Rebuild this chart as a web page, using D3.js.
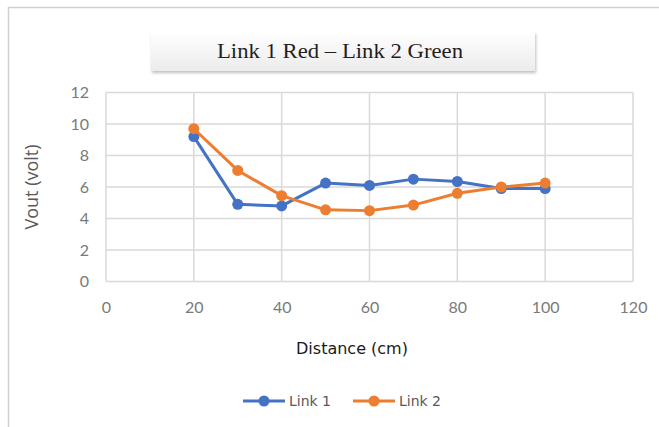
<!DOCTYPE html>
<html>
<head>
<meta charset="utf-8">
<script src="https://cdn.jsdelivr.net/npm/d3@7"></script>
<style>
  html, body { margin: 0; padding: 0; background: #fff; }
  svg { display: block; }
</style>
</head>
<body>
<svg id="chart" width="659" height="427"></svg>
<script>
// Output voltage measured at each distance for the two links
const distances = [20, 30, 40, 50, 60, 70, 80, 90, 100];
const link1 = [9.2, 4.9, 4.8, 6.25, 6.1, 6.5, 6.35, 5.9, 5.9];
const link2 = [9.7, 7.05, 5.45, 4.55, 4.5, 4.85, 5.6, 6.0, 6.25];
const seriesNames = ["Link 1", "Link 2"];
const seriesColors = ["#4472C4", "#ED7D31"];
const xTicks = [0, 20, 40, 60, 80, 100, 120];
const yTicks = [0, 2, 4, 6, 8, 10, 12];
const chartTitle = "Link 1 Red \u2013 Link 2 Green";

const svg = d3.select("#chart");
const W = 659, H = 427;
const plot = { left: 106, right: 633, top: 92.5, bottom: 281.5 };

const x = d3.scaleLinear().domain([0, 120]).range([plot.left, plot.right]);
const y = d3.scaleLinear().domain([0, 12]).range([plot.bottom, plot.top]);

const defs = svg.append("defs");
const grad = defs.append("linearGradient").attr("id", "titleFill")
  .attr("x1", 0).attr("y1", 0).attr("x2", 0).attr("y2", 1);
grad.append("stop").attr("offset", "0%").attr("stop-color", "#ffffff");
grad.append("stop").attr("offset", "100%").attr("stop-color", "#ebebeb");
const shadow = defs.append("filter").attr("id", "boxShadow")
  .attr("x", "-10%").attr("y", "-30%").attr("width", "120%").attr("height", "170%");
shadow.append("feDropShadow").attr("dx", 1).attr("dy", 2).attr("stdDeviation", 1.5)
  .attr("flood-color", "#000").attr("flood-opacity", 0.25);

// Chart frame (top and left edges)
svg.append("path")
  .attr("d", `M8.5,${H} L8.5,7.5 L${W},7.5`)
  .attr("fill", "none").attr("stroke", "#d0d0d0").attr("stroke-width", 1.5);

// Title box
svg.append("rect")
  .attr("x", 151).attr("y", 32).attr("width", 384).attr("height", 39)
  .attr("fill", "url(#titleFill)").attr("filter", "url(#boxShadow)");
svg.append("text")
  .attr("x", 340).attr("y", 58).attr("text-anchor", "middle")
  .attr("font-family", "'Liberation Serif', 'Times New Roman', serif")
  .attr("font-size", 22).attr("fill", "#1f1f1f")
  .attr("textLength", 246).attr("lengthAdjust", "spacingAndGlyphs")
  .text(chartTitle);

// Gridlines
const grid = svg.append("g").attr("stroke", "#d9d9d9").attr("stroke-width", 1.5);
grid.selectAll("line.h").data(yTicks).join("line")
  .attr("x1", plot.left).attr("x2", plot.right)
  .attr("y1", d => y(d)).attr("y2", d => y(d));
grid.selectAll("line.v").data(xTicks).join("line")
  .attr("y1", plot.top).attr("y2", plot.bottom)
  .attr("x1", d => x(d)).attr("x2", d => x(d));

// Axes (labels only; gridlines already drawn)
const tickFont = "Lato, 'Open Sans', sans-serif";
const yAxis = svg.append("g").attr("transform", `translate(${plot.left},0)`)
  .call(d3.axisLeft(y).tickValues(yTicks).tickSize(0).tickPadding(17));
const xAxis = svg.append("g").attr("transform", `translate(0,${plot.bottom})`)
  .call(d3.axisBottom(x).tickValues(xTicks).tickSize(0).tickPadding(20));
[yAxis, xAxis].forEach(a => {
  a.select(".domain").remove();
  a.selectAll("text").attr("font-family", tickFont).attr("font-size", 16).attr("fill", "#7a7a7a");
});

// Axis titles
svg.append("text")
  .attr("transform", `translate(38,${(plot.top + plot.bottom) / 2}) rotate(-90)`)
  .attr("text-anchor", "middle")
  .attr("font-family", "'Open Sans', sans-serif").attr("font-size", 18).attr("fill", "#595959")
  .text("Vout (volt)");
svg.append("text")
  .attr("x", 352).attr("y", 354).attr("text-anchor", "middle")
  .attr("font-family", "'DejaVu Sans', Verdana, sans-serif").attr("font-size", 16).attr("fill", "#1a1a1a")
  .text("Distance (cm)");

// Series
const series = [link1, link2].map((vals, i) => ({
  name: seriesNames[i], color: seriesColors[i],
  points: distances.map((d, j) => ({ x: d, y: vals[j] }))
}));
const line = d3.line().x(d => x(d.x)).y(d => y(d.y));
series.forEach(s => {
  const g = svg.append("g");
  g.append("path").datum(s.points)
    .attr("d", line).attr("fill", "none")
    .attr("stroke", s.color).attr("stroke-width", 3).attr("stroke-linejoin", "round");
  g.selectAll("circle").data(s.points).join("circle")
    .attr("cx", d => x(d.x)).attr("cy", d => y(d.y)).attr("r", 5.5)
    .attr("fill", s.color);
});

// Legend
const legend = svg.append("g");
series.forEach((s, i) => {
  const lx = 243 + i * 110, ly = 401;
  legend.append("line").attr("x1", lx).attr("x2", lx + 42).attr("y1", ly).attr("y2", ly)
    .attr("stroke", s.color).attr("stroke-width", 3);
  legend.append("circle").attr("cx", lx + 21).attr("cy", ly).attr("r", 5.5).attr("fill", s.color);
  legend.append("text").attr("x", lx + 46).attr("y", ly + 5)
    .attr("font-family", "'DejaVu Sans', Verdana, sans-serif").attr("font-size", 14).attr("fill", "#595959")
    .text(s.name);
});
</script>
</body>
</html>
